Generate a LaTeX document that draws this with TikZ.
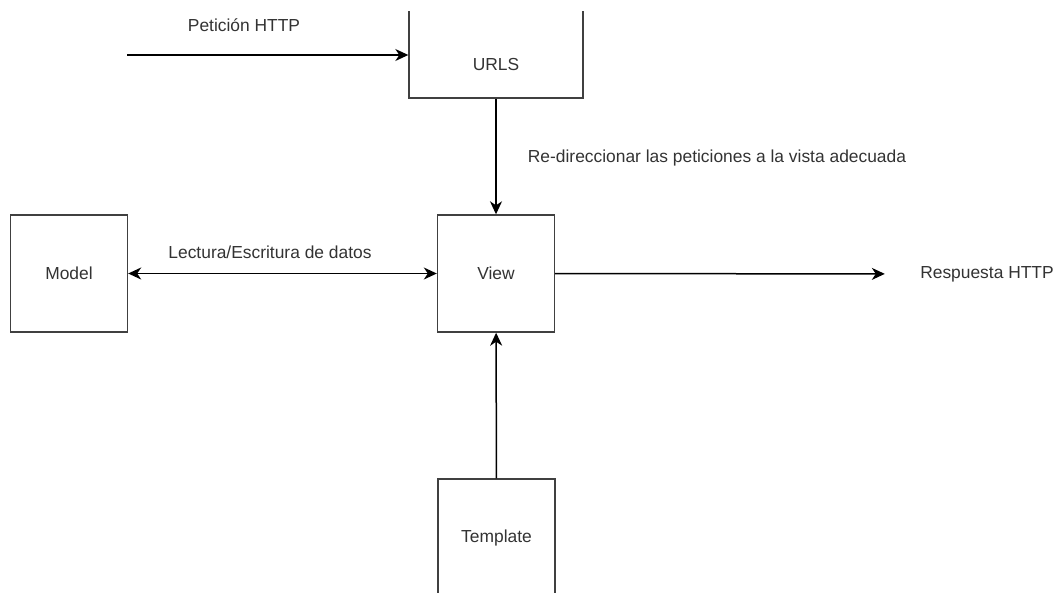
\documentclass[tikz,border=0pt]{standalone}
\usepackage{fontspec}
\setmainfont{Liberation Sans}
\usepackage{tikz}
\usetikzlibrary{arrows.meta, positioning}
\definecolor{boxgray}{HTML}{404040}
\definecolor{txtgray}{HTML}{333333}
\tikzstyle{box}=[rectangle, draw=boxgray, line width=1.4pt, minimum width=117pt, minimum height=117pt, inner sep=0pt, text=txtgray, font=\fontsize{17.4}{20}\selectfont]
\tikzstyle{lbl}=[inner sep=0pt, text=txtgray, font=\fontsize{17.4}{20}\selectfont]
\tikzstyle{arrow}=[line width=1.5pt, -{Stealth[length=13pt, width=12pt, inset=4pt]}]
\tikzstyle{arrow'}=[line width=1.5pt, {Stealth[length=13pt, width=12pt, inset=4pt]}-{Stealth[length=13pt, width=12pt, inset=4pt]}]

\begin{document}
\begin{tikzpicture}[x=1pt, y=-1pt]
		\useasboundingbox (0,0) rectangle (1063,592);
		\clip (0,11) rectangle (1063,592);
		
		\node(urls)[box, minimum width=174pt, label={[lbl, yshift=-25.5pt]center:URLS}] at (496,39.5){};
		\node(view)[box] at (496,273.5){View};
		\node(model)[box] at (69,273.5){Model};
		\node(template)[box] at (496.5,537.5){Template};
		\node(resp)[lbl, minimum width=204pt] at (987,274){Respuesta HTTP};
		\coordinate (request) at (127,55);
		
		\draw[arrow](request)--(request -| urls.west);
		\draw[arrow](urls)--(view);
		\draw[arrow'](model)--(view);
		\draw[arrow](view)--(resp);
		\draw[arrow](template)--(view);
		
		\node[lbl](reqlabel) at (244,25){Petición HTTP};
		\node[lbl](redirlabel) at (717,158){Re-direccionar las peticiones a la vista adecuada};
		\node[lbl](datalabel) at (270,252){Lectura/Escritura de datos};
	\end{tikzpicture}
\end{document}
